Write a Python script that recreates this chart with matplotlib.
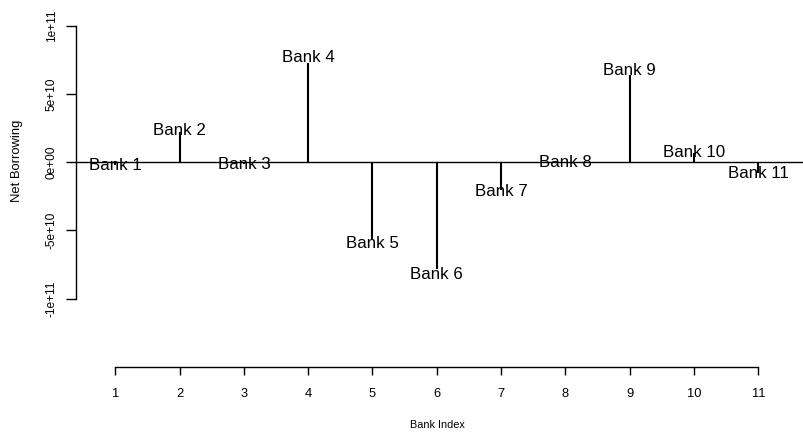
import matplotlib
matplotlib.use("Agg")
import matplotlib.pyplot as plt
import numpy as np

banks = ["Bank 1", "Bank 2", "Bank 3", "Bank 4", "Bank 5", "Bank 6",
         "Bank 7", "Bank 8", "Bank 9", "Bank 10", "Bank 11"]
bank_index = [1, 2, 3, 4, 5, 6, 7, 8, 9, 10, 11]
net_borrowing = [-0.2e10, 2.25e10, -0.12e10, 7.3e10, -5.7e10, -7.85e10,
                 -2.03e10, 0.02e10, 6.4e10, 0.7e10, -0.8e10]
y_ticks = [-1e11, -5e10, 0, 5e10, 1e11]
y_tick_labels = ["-1e+11", "-5e+10", "0e+00", "5e+10", "1e+11"]

plt.rcParams['font.family'] = ['Liberation Sans', 'DejaVu Sans']

W, H = 804, 432
fig = plt.figure(figsize=(W / 100, H / 100), dpi=100)

left_px, right_px, top_px, bot_px = 76, 804, 5.5, 367
ax = fig.add_axes([left_px / W, 1 - bot_px / H, (right_px - left_px) / W, (bot_px - top_px) / H])

# scales from pixel measurements
xppu = (758.3 - 115.3) / 10.0
x0 = 1 - (115.3 - left_px) / xppu
x1 = 11 + (right_px - 758.3) / xppu
yppu = 13.63 / 1e10
zero_px = 162.3
y0 = -(bot_px - zero_px) / yppu
y1 = (zero_px - top_px) / yppu
ax.set_xlim(x0, x1)
ax.set_ylim(y0, y1)

x = np.array(bank_index)
v = np.array(net_borrowing)
ax.vlines(x, 0, v, color='black', lw=1.5)
ax.axhline(0, color='black', lw=1.0)
for xi, vi, name in zip(x, v, banks):
    ax.text(xi, vi * 1.05, name, ha='center', va='center', fontsize=12.2, color='black')

for s in ['top', 'right']:
    ax.spines[s].set_visible(False)
ax.spines['left'].set_bounds(-1e11, 1e11)
ax.spines['bottom'].set_bounds(1, 11)
for s in ['left', 'bottom']:
    ax.spines[s].set_linewidth(1.0)

ax.set_xticks(bank_index)
ax.set_xticklabels([str(i) for i in bank_index])
ax.set_yticks(y_ticks)
ax.set_yticklabels(y_tick_labels, rotation=90, va='center')
ax.tick_params(axis='x', length=5.8, width=1.0, labelsize=9.3, pad=9.3)
ax.tick_params(axis='y', length=7, width=1.0, labelsize=8.6, pad=6.0)

fig.text(437 / W, 1 - 425 / H, "Bank Index", fontsize=7.8, ha='center', va='center')
fig.text(17 / W, 1 - 161 / H, "Net Borrowing", fontsize=9.4, ha='center', va='center', rotation=90)

fig.savefig("out.png", dpi=100)
